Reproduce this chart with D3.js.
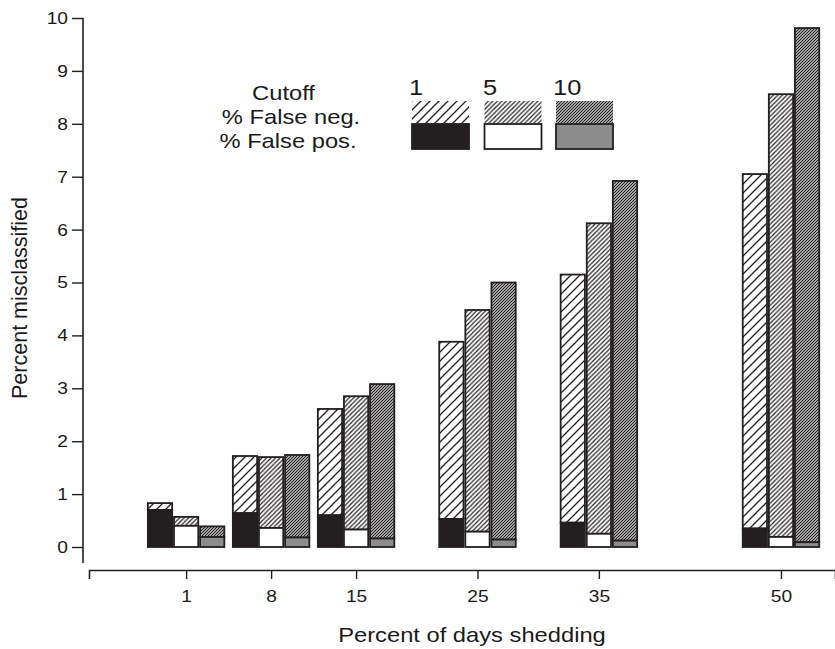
<!DOCTYPE html>
<html>
<head>
<meta charset="utf-8">
<script src="https://cdn.jsdelivr.net/npm/d3@7"></script>
<style>
  html, body { margin: 0; padding: 0; background: #fff; }
  svg text { font-family: "Liberation Sans", Arial, Helvetica, sans-serif; fill: #1a1a1a; }
</style>
</head>
<body>
<svg id="chart" width="835" height="649"></svg>
<script>
// ---- data ----
const groups = [1, 8, 15, 25, 35, 50];          // percent of days shedding
const cutoffs = ["1", "5", "10"];
const falsePos1  = [0.70, 0.64, 0.60, 0.53, 0.46, 0.35];
const falsePos5  = [0.40, 0.36, 0.33, 0.29, 0.25, 0.19];
const falsePos10 = [0.19, 0.18, 0.16, 0.14, 0.12, 0.09];
const falseNeg1  = [0.13, 1.08, 2.01, 3.35, 4.69, 6.70];
const falseNeg5  = [0.17, 1.34, 2.52, 4.19, 5.87, 8.37];
const falseNeg10 = [0.20, 1.56, 2.92, 4.86, 6.80, 9.72];
const yTicks = [0, 1, 2, 3, 4, 5, 6, 7, 8, 9, 10];
const legendLabels = ["Cutoff", "% False neg.", "% False pos."];

const falsePos = [falsePos1, falsePos5, falsePos10];
const falseNeg = [falseNeg1, falseNeg5, falseNeg10];

// ---- layout ----
const SX = 1.13;   // horizontal stretch of the lettering in the reference
const svg = d3.select("#chart");
const x = d3.scaleLinear().domain([-7, 54.45]).range([89, 835]);
const y = d3.scaleLinear().domain([0, 10]).range([547, 18]);
const barOffset = [-2.15, 0, 2.15];
const barHalf = 1.0;
const ink = "#231f20";
const fpFill = ["#231f20", "#ffffff", "#8c8c8c"];

function stretchText(sel) {
  sel.each(function () {
    const t = d3.select(this);
    const tx = +t.attr("x") || 0;
    t.attr("x", tx / SX).attr("transform", `scale(${SX},1)`);
  });
}
function addText(parent, px, py, txt, size, anchor) {
  return parent.append("text")
    .attr("transform", `translate(${px},${py}) scale(${SX},1)`)
    .attr("text-anchor", anchor || "start")
    .attr("font-size", size)
    .text(txt);
}

// hatch patterns
const defs = svg.append("defs");
const hatchSpec = [
  { s: 9,   w: 1.3, bg: "#ffffff" },
  { s: 4.5, w: 1.15, bg: "#ffffff" },
  { s: 3,   w: 1.05, bg: "#cfcfcf" }
];
hatchSpec.forEach((h, i) => {
  const p = defs.append("pattern")
    .attr("id", "hatch" + i)
    .attr("patternUnits", "userSpaceOnUse")
    .attr("width", h.s).attr("height", h.s);
  p.append("rect").attr("width", h.s).attr("height", h.s).attr("fill", h.bg);
  const s = h.s;
  p.append("path")
    .attr("d", `M0,${s} L${s},0 M${-s/2},${s/2} L${s/2},${-s/2} M${s/2},${s*1.5} L${s*1.5},${s/2}`)
    .attr("stroke", ink).attr("stroke-width", h.w);
});

// ---- bars ----
const barData = [];
groups.forEach((g, gi) => {
  cutoffs.forEach((c, ci) => {
    barData.push({ g, ci, fp: falsePos[ci][gi], fn: falseNeg[ci][gi] });
  });
});
const bx0 = d => x(d.g + barOffset[d.ci] - barHalf);
const bw = d => x(d.g + barOffset[d.ci] + barHalf) - x(d.g + barOffset[d.ci] - barHalf);
const bars = svg.append("g");
bars.selectAll("rect.fn").data(barData).enter().append("rect")
  .attr("class", "fn")
  .attr("x", bx0).attr("width", bw)
  .attr("y", d => y(d.fp + d.fn))
  .attr("height", d => y(d.fp) - y(d.fp + d.fn))
  .attr("fill", d => `url(#hatch${d.ci})`)
  .attr("stroke", ink).attr("stroke-width", 1.8);
bars.selectAll("rect.fp").data(barData).enter().append("rect")
  .attr("class", "fp")
  .attr("x", bx0).attr("width", bw)
  .attr("y", d => y(d.fp))
  .attr("height", d => y(0) - y(d.fp))
  .attr("fill", d => fpFill[d.ci])
  .attr("stroke", ink).attr("stroke-width", 1.8);

// ---- y axis ----
const yAxis = d3.axisLeft(y).tickValues(yTicks).tickSize(11).tickPadding(4).tickSizeOuter(0);
const gy = svg.append("g").attr("transform", "translate(83,0)").call(yAxis);
gy.select(".domain").remove();
gy.append("line").attr("x1", 0).attr("x2", 0).attr("y1", y(10)).attr("y2", 563)
  .attr("stroke", ink).attr("stroke-width", 1.6);
gy.selectAll(".tick line").attr("stroke", ink).attr("stroke-width", 1.4);
gy.selectAll(".tick text").attr("font-size", 17).attr("fill", "#1a1a1a")
  .style("font-family", "'Liberation Sans', Arial, sans-serif");
stretchText(gy.selectAll(".tick text"));

// ---- x axis ----
const xAxis = d3.axisBottom(x).tickValues(groups).tickSize(9).tickPadding(11).tickSizeOuter(9);
const gx = svg.append("g").attr("transform", "translate(0,570)").call(xAxis);
gx.select(".domain").attr("stroke", ink).attr("stroke-width", 1.6);
gx.selectAll(".tick line").attr("stroke", ink).attr("stroke-width", 1.4);
gx.selectAll(".tick text").attr("font-size", 17).attr("fill", "#1a1a1a")
  .style("font-family", "'Liberation Sans', Arial, sans-serif");
stretchText(gx.selectAll(".tick text"));

// ---- axis titles ----
addText(svg, 472, 642, "Percent of days shedding", 21, "middle");
svg.append("text")
  .attr("transform", "translate(27,298) rotate(-90)")
  .attr("text-anchor", "middle").attr("font-size", 21.5)
  .text("Percent misclassified");

// ---- legend ----
const leg = svg.append("g");
const legRowY = [100, 124, 148];
const legRowX = [283.5, 291, 288];
legendLabels.forEach((lab, i) => addText(leg, legRowX[i], legRowY[i], lab, 21, "middle"));
const legX = [412, 484.5, 556];
const legLabX = [409, 483, 553];
const legW = 57;
cutoffs.forEach((c, i) => {
  addText(leg, legLabX[i], 95, c, 22.5, "start");
  leg.append("rect").attr("x", legX[i]).attr("y", 101).attr("width", legW).attr("height", 22.5)
    .attr("fill", `url(#hatch${i})`);
  leg.append("rect").attr("x", legX[i]).attr("y", 124).attr("width", legW).attr("height", 25)
    .attr("fill", fpFill[i]).attr("stroke", ink).attr("stroke-width", 1.8);
});
</script>
</body>
</html>
